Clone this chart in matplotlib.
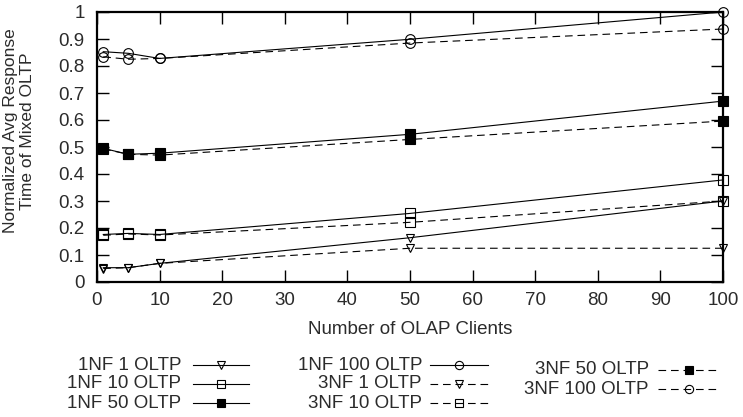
import matplotlib
matplotlib.use('Agg')
import matplotlib.pyplot as plt

plt.rcParams['font.family'] = ['Liberation Sans', 'DejaVu Sans']
plt.rcParams['lines.scale_dashes'] = False
plt.rcParams['text.color'] = '#2b2b2b'
plt.rcParams['xtick.labelcolor'] = '#2b2b2b'
plt.rcParams['ytick.labelcolor'] = '#2b2b2b'

# number of OLAP clients
clients = [1, 5, 10, 50, 100]

# normalized avg response time of mixed OLTP
nf1_1 = [0.053, 0.053, 0.069, 0.164, 0.300]
nf1_10 = [0.176, 0.180, 0.176, 0.254, 0.378]
nf1_50 = [0.495, 0.473, 0.477, 0.547, 0.670]
nf1_100 = [0.853, 0.847, 0.828, 0.899, 1.000]
nf3_1 = [0.050, 0.053, 0.069, 0.125, 0.125]
nf3_10 = [0.173, 0.178, 0.174, 0.221, 0.300]
nf3_50 = [0.493, 0.473, 0.470, 0.528, 0.596]
nf3_100 = [0.834, 0.825, 0.828, 0.885, 0.937]

xticks = list(range(0, 101, 10))
yticks = [i / 10 for i in range(11)]
ytick_labels = ['0', '0.1', '0.2', '0.3', '0.4', '0.5', '0.6', '0.7', '0.8', '0.9', '1']

labels = ['1NF 1 OLTP', '1NF 10 OLTP', '1NF 50 OLTP', '1NF 100 OLTP',
          '3NF 1 OLTP', '3NF 10 OLTP', '3NF 50 OLTP', '3NF 100 OLTP']
series = [nf1_1, nf1_10, nf1_50, nf1_100, nf3_1, nf3_10, nf3_50, nf3_100]

W, H = 743, 417
DASH = (5.5, 3.5)


def style(i):
    marker = ['v', 's', 's', 'o'][i % 4]
    size = {'v': 6, 's': 6.5, 'o': 7}[marker]
    face = 'k' if i % 4 == 2 else 'none'
    kw = dict(color='k', lw=0.8, marker=marker, ms=size, mfc=face, mec='k', mew=0.8)
    if i >= 4:
        kw['dashes'] = DASH
    return kw


fig = plt.figure(figsize=(W / 100, H / 100), dpi=100)
ax = fig.add_axes([97 / W, 1 - 282 / H, (723 - 97) / W, (282 - 12) / H])

for i, ys in enumerate(series):
    ax.plot(clients, ys, clip_on=False, **style(i))

ax.set_xlim(0, 100)
ax.set_ylim(0, 1)
ax.set_xticks(xticks)
ax.set_yticks(yticks)
ax.set_yticklabels(ytick_labels)
ax.tick_params(direction='in', length=8.5, width=1.0, top=True, right=True,
               labelsize=13.5, pad=7)
ax.tick_params(axis='y', pad=9)
for s in ax.spines.values():
    s.set_linewidth(1.6)

fig.text(410 / W, 1 - 329 / H, 'Number of OLAP Clients', ha='center', va='center', fontsize=13.5)
fig.text(19 / W, 1 - 131 / H, 'Normalized Avg Response\nTime of Mixed OLTP', ha='center', va='center',
         rotation=90, fontsize=12.5, linespacing=1.2)

# legend drawn gnuplot style: text right aligned, sample to the right
lg = fig.add_axes([0, 0, 1, 1])
lg.set_xlim(0, W)
lg.set_ylim(H, 0)
lg.axis('off')
cols = [(181, 193, 249, [365, 384, 403]),
        (422, 430, 488, [365, 384, 403]),
        (649, 658, 720, [370, 389])]
k = 0
for tx, x0, x1, rows in cols:
    for ry in rows:
        kw = style(k)
        lg.plot([x0, x1], [ry, ry], color='k', lw=0.8, dashes=kw.get('dashes', (None, None)))
        lg.plot([(x0 + x1) / 2], [ry], ls='none', marker=kw['marker'], ms=kw['ms'] * 0.85,
                mfc=kw['mfc'], mec='k', mew=0.8)
        lg.text(tx, ry, labels[k], ha='right', va='center', fontsize=13.5)
        k += 1

fig.savefig('out.png', dpi=100)
